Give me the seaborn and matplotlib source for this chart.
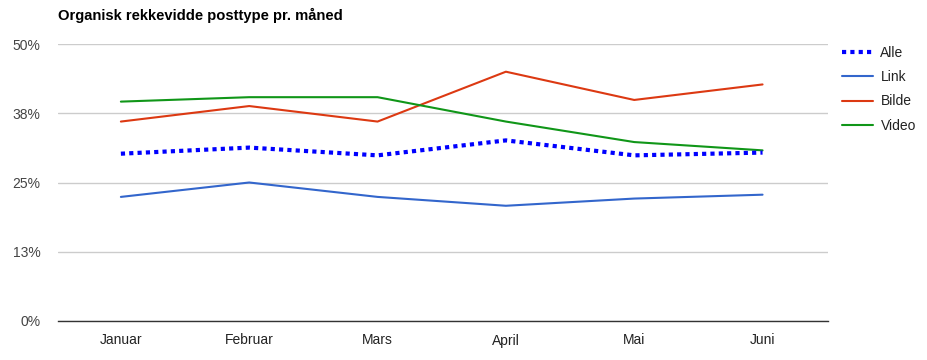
import pandas as pd
import matplotlib.pyplot as plt
import matplotlib.ticker as mticker
import seaborn as sns

# Values (percent)
months = ['Januar', 'Februar', 'Mars', 'April', 'Mai', 'Juni']
alle = [30.2, 31.3, 29.9, 32.6, 29.9, 30.4]
link = [22.4, 25.0, 22.4, 20.8, 22.1, 22.8]
bilde = [36.0, 38.8, 36.0, 45.0, 39.9, 42.7]
video = [39.6, 40.4, 40.4, 36.0, 32.3, 30.8]

series = {'Alle': alle, 'Link': link, 'Bilde': bilde, 'Video': video}
colors = {'Alle': '#0000ff', 'Link': '#3366cc', 'Bilde': '#dc3912', 'Video': '#109618'}

df = pd.DataFrame([
    {'Måned': m, 'idx': i, 'Type': name, 'Rekkevidde': v}
    for name, vals in series.items()
    for i, (m, v) in enumerate(zip(months, vals))
])

sns.set_style("white")
plt.rcParams['font.family'] = ['Liberation Sans', 'DejaVu Sans']

fig = plt.figure(figsize=(9.28, 3.6), dpi=100)
ax = fig.add_axes([58 / 928, 1 - 321 / 360, 770 / 928, 277 / 360])

for name in series:
    sub = df[df['Type'] == name]
    if name == 'Alle':
        sns.lineplot(data=sub, x='idx', y='Rekkevidde', ax=ax, color=colors[name],
                     linewidth=3.0, label=name, zorder=3)
        ax.lines[-1].set_dashes((1, 1.0))
    else:
        sns.lineplot(data=sub, x='idx', y='Rekkevidde', ax=ax, color=colors[name],
                     linewidth=1.5, label=name, zorder=2)

ax.set_xlim(-0.49, 5.51)
ax.set_ylim(0, 50)
ax.set_yticks([0, 12.5, 25, 37.5, 50])
ax.yaxis.set_major_formatter(mticker.FuncFormatter(lambda v, p: f"{int(v + 0.5)}%"))
ax.set_xticks(range(len(months)))
ax.set_xticklabels(months)
ax.set_xlabel('')
ax.set_ylabel('')
ax.grid(axis='y', color='#cccccc', linewidth=1)
ax.set_axisbelow(True)
for s in ['top', 'right', 'left']:
    ax.spines[s].set_visible(False)
ax.spines['bottom'].set_color('#333333')
ax.spines['bottom'].set_linewidth(1)
ax.tick_params(axis='both', length=0, labelsize=10, colors='#222222')
ax.tick_params(axis='y', pad=12.5, colors='#444444')
ax.tick_params(axis='x', pad=9)

fig.text(58 / 928, 1 - 15 / 360, 'Organisk rekkevidde posttype pr. måned',
         fontsize=10.6, fontweight='bold', va='center', ha='left', color='#000000')

handles, labels = ax.get_legend_handles_labels()
ax.get_legend().remove()
fig.legend(handles, labels, loc='upper left', bbox_to_anchor=(836 / 928, 1 - 40 / 360),
           frameon=False, fontsize=10, handlelength=2.3, handletextpad=0.5,
           labelspacing=0.75, borderaxespad=0, labelcolor='#222222')

fig.savefig('out.png', dpi=100)
